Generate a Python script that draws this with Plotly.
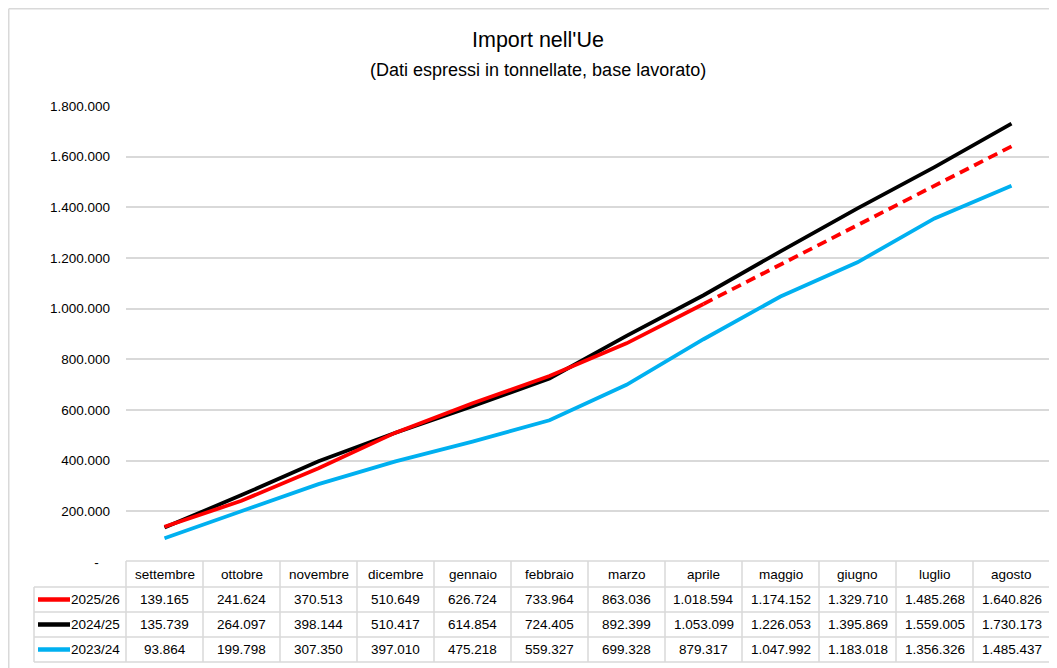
import plotly.graph_objects as go

# ---------------- data ----------------
months = ["settembre", "ottobre", "novembre", "dicembre", "gennaio", "febbraio",
          "marzo", "aprile", "maggio", "giugno", "luglio", "agosto"]
series_names = ["2025/26", "2024/25", "2023/24"]
s2025_26 = [139165, 241624, 370513, 510649, 626724, 733964,
            863036, 1018594, 1174152, 1329710, 1485268, 1640826]
s2024_25 = [135739, 264097, 398144, 510417, 614854, 724405,
            892399, 1053099, 1226053, 1395869, 1559005, 1730173]
s2023_24 = [93864, 199798, 307350, 397010, 475218, 559327,
            699328, 879317, 1047992, 1183018, 1356326, 1485437]
last_actual_month = "aprile"   # 2025/26: actual up to here, projection after
y_tick_values = [0, 200000, 400000, 600000, 800000, 1000000,
                 1200000, 1400000, 1600000, 1800000]
title_text = "Import nell'Ue"
subtitle_text = "(Dati espressi in tonnellate, base lavorato)"

# ---------------- style ----------------
FONT = "Liberation Sans, Arial, sans-serif"
SMALL = 13.5
RED, BLACK, BLUE = "#FF0000", "#000000", "#00B0F0"
GRID = "#D9D9D9"
OFF = 8                      # page body margin (screen px)
W, H = 1057 - OFF, 668 - OFF
L, R, T, B = 118, 7, 98, 106
PW, PH = W - L - R, H - T - B


def fx(sx):
    """screen x pixel -> paper x"""
    return (sx - OFF - L) / PW


def fy(sy):
    """screen y pixel -> paper y"""
    return (H - B - (sy - OFF)) / PH


def fmt(v):
    return f"{v:,}".replace(",", ".")


cut = months.index(last_actual_month)

fig = go.Figure()
fig.add_trace(go.Scatter(x=months, y=s2023_24, mode="lines", name=series_names[2],
                         line=dict(color=BLUE, width=3.8)))
fig.add_trace(go.Scatter(x=months, y=s2024_25, mode="lines", name=series_names[1],
                         line=dict(color=BLACK, width=3.8)))
fig.add_trace(go.Scatter(x=months[:cut + 1], y=s2025_26[:cut + 1], mode="lines",
                         name=series_names[0], line=dict(color=RED, width=3.8)))
fig.add_trace(go.Scatter(x=months[cut:], y=s2025_26[cut:], mode="lines",
                         name=series_names[0] + " (prev.)",
                         line=dict(color=RED, width=3.8, dash="10px,6px")))

ticktext = [fmt(v) if v else "-\u00a0\u00a0\u00a0" for v in y_tick_values]

fig.update_layout(
    width=W, height=H,
    margin=dict(l=L, r=R, t=T, b=B),
    paper_bgcolor="white", plot_bgcolor="white",
    showlegend=False,
    font=dict(family=FONT, size=SMALL, color="#000000"),
    xaxis=dict(type="category", range=[-0.5, len(months) - 0.5],
               showticklabels=False, showgrid=False, zeroline=False,
               showline=False, ticks=""),
    yaxis=dict(range=[0, 1800000], tickvals=y_tick_values, ticktext=ticktext,
               showgrid=True, gridcolor=GRID, gridwidth=1.5, zeroline=False,
               showline=False, ticks="", ticklabelstandoff=15,
               tickfont=dict(family=FONT, size=SMALL, color="#000000")),
)

shapes = []
# outer chart border (top, left)
shapes.append(dict(type="line", xref="paper", yref="paper",
                   x0=fx(OFF + 0.75), x1=fx(1080), y0=fy(OFF + 0.75), y1=fy(OFF + 0.75),
                   line=dict(color=GRID, width=1.5)))
shapes.append(dict(type="line", xref="paper", yref="paper",
                   x0=fx(OFF + 0.75), x1=fx(OFF + 0.75), y0=fy(OFF + 0.75), y1=fy(690),
                   line=dict(color=GRID, width=1.5)))

# data table geometry (screen px)
tab_left = 34
col0 = OFF + L
colw = PW / len(months)
col_end = col0 + PW
header_top, header_bot = 561, 587
row_h = 25
rows_bot = header_bot + row_h * len(series_names)

# horizontal borders
shapes.append(dict(type="line", xref="paper", yref="paper",
                   x0=fx(col0), x1=fx(col_end), y0=fy(header_top), y1=fy(header_top),
                   line=dict(color=GRID, width=1.5)))
for i in range(len(series_names) + 1):
    yy = header_bot + i * row_h
    shapes.append(dict(type="line", xref="paper", yref="paper",
                       x0=fx(tab_left), x1=fx(col_end), y0=fy(yy), y1=fy(yy),
                       line=dict(color=GRID, width=1.5)))
# vertical borders
shapes.append(dict(type="line", xref="paper", yref="paper",
                   x0=fx(tab_left), x1=fx(tab_left), y0=fy(header_bot), y1=fy(rows_bot),
                   line=dict(color=GRID, width=1.5)))
for i in range(len(months) + 1):
    xx = col0 + i * colw
    shapes.append(dict(type="line", xref="paper", yref="paper",
                       x0=fx(xx), x1=fx(xx), y0=fy(header_top), y1=fy(rows_bot),
                       line=dict(color=GRID, width=1.5)))

annotations = []
# titles
annotations.append(dict(text=title_text, xref="paper", yref="paper",
                        x=fx(538), y=fy(40), showarrow=False,
                        xanchor="center", yanchor="middle",
                        font=dict(family=FONT, size=21.5, color="#000000")))
annotations.append(dict(text=subtitle_text, xref="paper", yref="paper",
                        x=fx(538), y=fy(70), showarrow=False,
                        xanchor="center", yanchor="middle",
                        font=dict(family=FONT, size=18, color="#000000")))
# header
for m in months:
    annotations.append(dict(text=m, xref="x", yref="paper", x=m,
                            y=fy((header_top + header_bot) / 2), showarrow=False,
                            xanchor="center", yanchor="middle",
                            font=dict(family=FONT, size=SMALL, color="#000000")))
# rows
table_series = [(series_names[0], s2025_26, RED),
                (series_names[1], s2024_25, BLACK),
                (series_names[2], s2023_24, BLUE)]
for r, (name, vals, col) in enumerate(table_series):
    yc = header_bot + r * row_h + row_h / 2
    shapes.append(dict(type="line", xref="paper", yref="paper",
                       x0=fx(38), x1=fx(70), y0=fy(yc), y1=fy(yc),
                       line=dict(color=col, width=4.5)))
    annotations.append(dict(text=name, xref="paper", yref="paper",
                            x=fx(122), y=fy(yc), showarrow=False,
                            xanchor="right", yanchor="middle",
                            font=dict(family=FONT, size=SMALL, color="#000000")))
    for m, v in zip(months, vals):
        annotations.append(dict(text=fmt(v), xref="x", yref="paper", x=m,
                                y=fy(yc), showarrow=False,
                                xanchor="center", yanchor="middle",
                                font=dict(family=FONT, size=SMALL, color="#000000")))

fig.update_layout(shapes=shapes, annotations=annotations)
fig.write_html("out.html")
